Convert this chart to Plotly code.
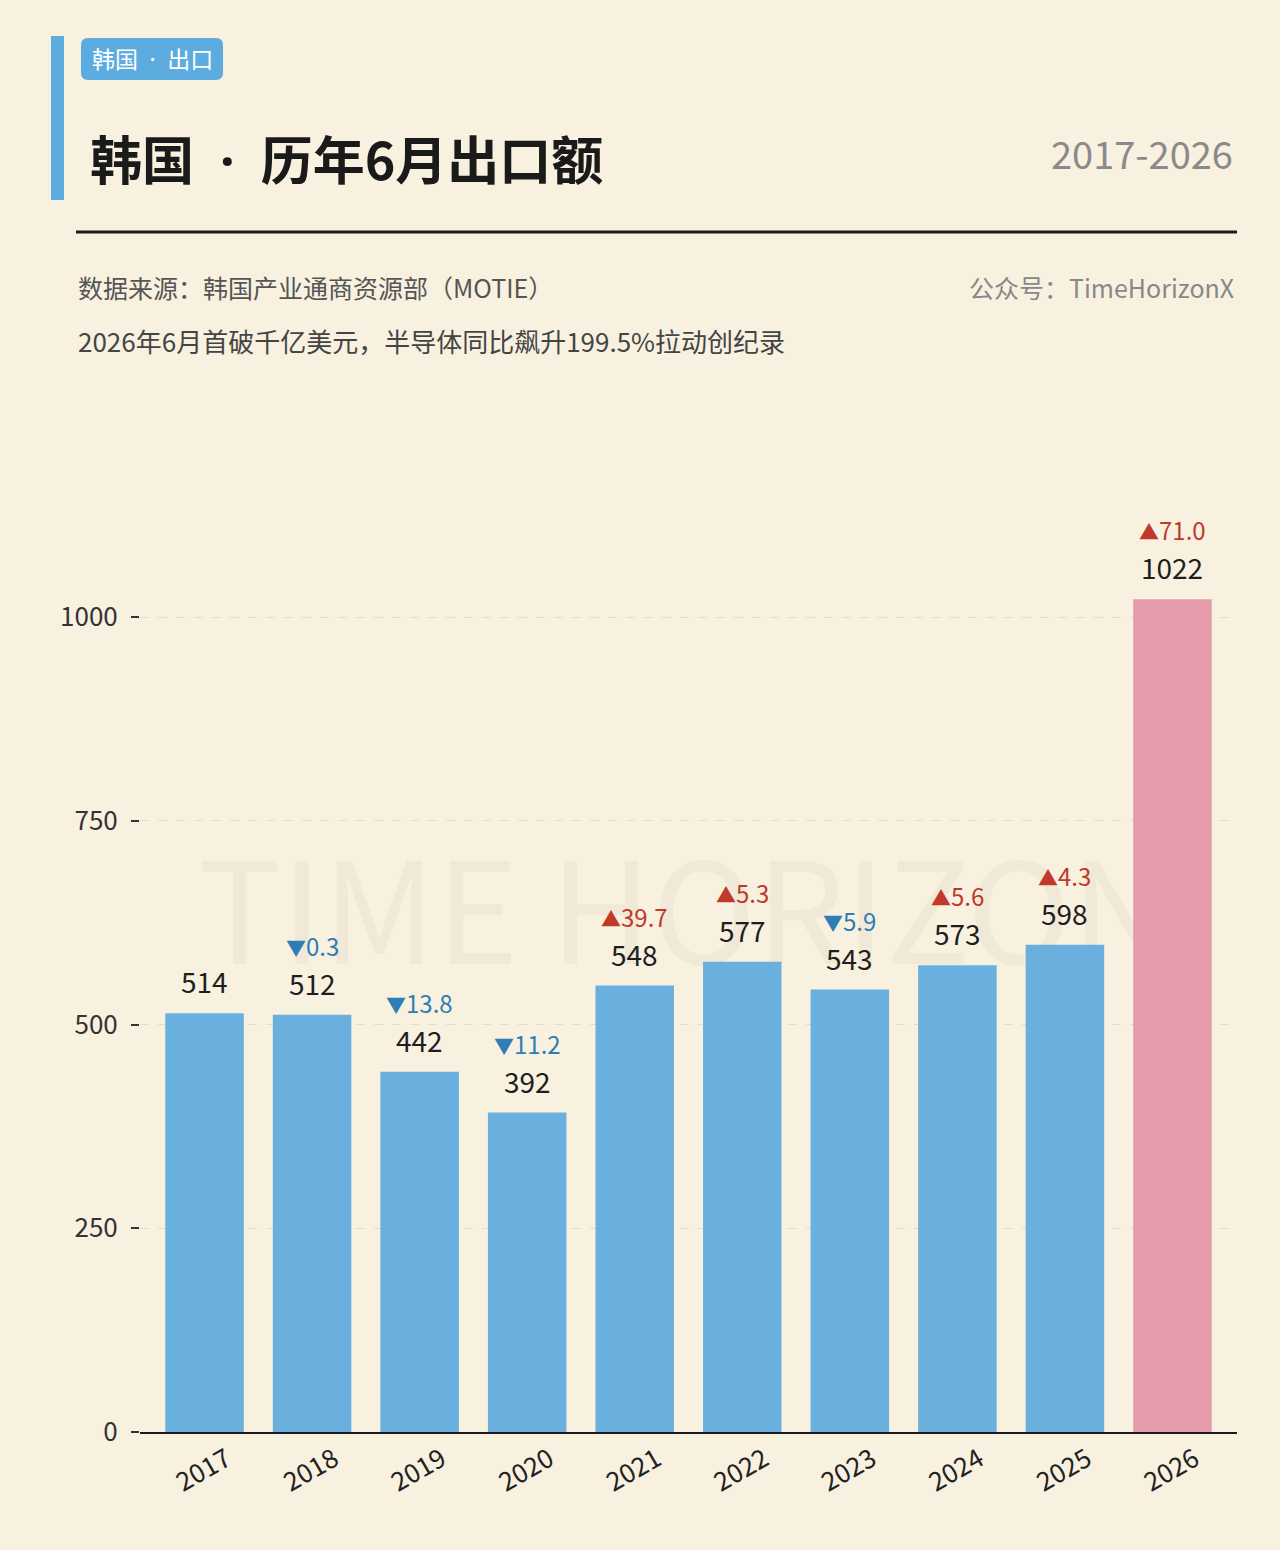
import plotly.graph_objects as go

years = ["2017", "2018", "2019", "2020", "2021", "2022", "2023", "2024", "2025", "2026"]
values = [514, 512, 442, 392, 548, 577, 543, 573, 598, 1022]
changes = [None, -0.3, -13.8, -11.2, 39.7, 5.3, -5.9, 5.6, 4.3, 71.0]
y_ticks = [0, 250, 500, 750, 1000]

BG = "#F8F1E0"
BLUE = "#6AB0DE"
PINK = "#E59BAA"
RED = "#C0392B"
DBLUE = "#2E7DB5"
FONT = "Noto Sans CJK SC"
DOT = "<span style='font-family:Noto Sans'>\u2002·\u2002</span>"

W, H = 1280, 1550
L, R, T, B = 140, 1237, 495, 1432

def px(x):
    return (x - L) / (R - L)

def py(y):
    return (B - y) / (B - T)

colors = [BLUE] * (len(years) - 1) + [PINK]

fig = go.Figure()
fig.add_trace(go.Bar(
    x=years, y=values, marker_color=colors, marker_line_width=0,
    hoverinfo="skip",
))

annotations = []
for i, (v, c) in enumerate(zip(values, changes)):
    annotations.append(dict(
        x=i, y=v, xref="x", yref="y", text=str(v), showarrow=False,
        yanchor="bottom", yshift=10, font=dict(size=28, color="#1E1E1E", family=FONT),
    ))
    if c is not None:
        up = c >= 0
        tri = "▲" if up else "▼"
        annotations.append(dict(
            x=i, y=v, xref="x", yref="y",
            text=f"<span style='font-size:20px'>{tri}</span>{abs(c):.1f}", showarrow=False,
            yanchor="bottom", yshift=50,
            font=dict(size=24, color=RED if up else DBLUE, family=FONT),
        ))

# header texts
annotations += [
    dict(x=px(152), y=py(58), xref="paper", yref="paper", text="韩国" + DOT + "出口",
         showarrow=False, xanchor="center", yanchor="middle",
         font=dict(size=23, color="white", family=FONT)),
    dict(x=px(88), y=py(157), xref="paper", yref="paper", text="<b>韩国" + DOT + "历年6月出口额</b>",
         showarrow=False, xanchor="left", yanchor="middle",
         font=dict(size=52, color="#1A1A1A", family=FONT)),
    dict(x=px(1235), y=py(153), xref="paper", yref="paper", text="2017-2026",
         showarrow=False, xanchor="right", yanchor="middle",
         font=dict(size=38, color="#8A8A8A", family=FONT)),
    dict(x=px(76), y=py(287), xref="paper", yref="paper", text="数据来源：韩国产业通商资源部（MOTIE）",
         showarrow=False, xanchor="left", yanchor="middle",
         font=dict(size=25, color="#555555", family=FONT)),
    dict(x=px(1236), y=py(287), xref="paper", yref="paper", text="公众号：TimeHorizonX",
         showarrow=False, xanchor="right", yanchor="middle",
         font=dict(size=25, color="#888888", family=FONT)),
    dict(x=px(76), y=py(340), xref="paper", yref="paper",
         text="2026年6月首破千亿美元，半导体同比飙升199.5%拉动创纪录",
         showarrow=False, xanchor="left", yanchor="middle",
         font=dict(size=26, color="#444444", family=FONT)),
]

def rounded_rect(x0, y0, x1, y1, r):
    def P(x, y):
        return f"{px(x):.5f},{py(y):.5f}"
    return (f"M {P(x0 + r, y0)} L {P(x1 - r, y0)} Q {P(x1, y0)} {P(x1, y0 + r)} "
            f"L {P(x1, y1 - r)} Q {P(x1, y1)} {P(x1 - r, y1)} "
            f"L {P(x0 + r, y1)} Q {P(x0, y1)} {P(x0, y1 - r)} "
            f"L {P(x0, y0 + r)} Q {P(x0, y0)} {P(x0 + r, y0)} Z")

shapes = [
    dict(type="rect", xref="paper", yref="paper", x0=px(51), x1=px(64), y0=py(200), y1=py(36),
         fillcolor="#5DACE0", line_width=0),
    dict(type="path", xref="paper", yref="paper", path=rounded_rect(81, 38, 223, 80, 7),
         fillcolor="#5DACE0", line_width=0),
    dict(type="line", xref="paper", yref="paper", x0=px(76), x1=px(1237), y0=py(232), y1=py(232),
         line=dict(color="#1A1A1A", width=3)),
    dict(type="rect", xref="paper", yref="paper", x0=px(170), x1=px(1200), y0=py(990), y1=py(860),
         fillcolor="rgba(0,0,0,0)", line_width=0, layer="below",
         label=dict(text="TIME HORIZON", font=dict(size=140, color="rgba(120,100,60,0.05)", family=FONT),
                    textposition="middle center")),
]

fig.update_layout(
    width=W, height=H,
    margin=dict(l=L, r=W - R, t=T, b=H - B),
    paper_bgcolor=BG, plot_bgcolor=BG,
    bargap=0.27, showlegend=False,
    annotations=annotations, shapes=shapes,
    font=dict(family=FONT),
    xaxis=dict(
        type="category", range=[-0.6, 9.6], showline=True, linecolor="#1A1A1A", linewidth=2,
        ticks="", tickangle=-30, tickfont=dict(size=26, color="#222222", family=FONT),
        ticklabelshift=22, ticklabelstandoff=0,
        showgrid=False, fixedrange=True,
    ),
    yaxis=dict(
        range=[0, 1150], tickvals=y_ticks, ticktext=[str(t) for t in y_ticks],
        ticks="outside", ticklen=8, tickwidth=2, tickcolor="#333333",
        tickfont=dict(size=26, color="#333333", family=FONT), ticklabelstandoff=8,
        showgrid=True, gridcolor="#E3DCCB", griddash="dash", gridwidth=1,
        zeroline=False, showline=False, fixedrange=True,
    ),
)

fig.write_html("out.html")
